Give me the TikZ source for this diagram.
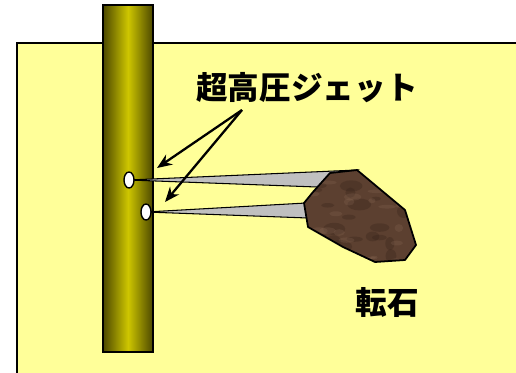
\documentclass[tikz,border=0pt]{standalone}
\usepackage{fontspec}
\newfontfamily\jp{Noto Sans CJK JP}
\usetikzlibrary{shapes.geometric,arrows.meta}

\definecolor{ground}{RGB}{255,255,153}
\definecolor{pipedark}{RGB}{76,72,0}
\definecolor{pipelite}{RGB}{206,198,0}
\definecolor{jetgray}{RGB}{192,192,192}
\definecolor{rock}{RGB}{92,64,48}
\definecolor{rocklite}{RGB}{150,118,96}
\definecolor{rockdark}{RGB}{52,34,24}

\begin{document}
\begin{tikzpicture}[x=0.02cm, y=-0.02cm,
    hole/.style={ellipse, draw=black, fill=white, line width=0.8pt, minimum width=0.2cm, minimum height=0.32cm, inner sep=0pt},
    jet/.style={draw=black, line width=0.6pt, fill=jetgray},
    txt/.style={font=\jp\bfseries\fontsize{18}{18}\selectfont},
    arrow/.style={-{Stealth[length=0.3cm, width=0.24cm]}, line width=1.3pt}
  ]
  \clip (0,0) rectangle (516,372);

  % ground
  \draw[fill=ground, line width=1.3pt] (17,43) rectangle (530,390);

  % pipe
  \shade[left color=pipedark, right color=pipedark, middle color=pipelite] (103,5) rectangle (153,352);
  \draw[line width=1.5pt] (103,5) rectangle (153,352);

  % nozzles
  \coordinate (n1) at (129,180);
  \coordinate (n2) at (146,212);

  % jets
  \filldraw[jet] (n1) -- (357,170) -- (317,187) -- cycle;
  \filldraw[jet] (n2) -- (306,203) -- (308,218) -- cycle;

  % boulder
  \def\rockpath{(330,173) -- (357,170) -- (405,210) -- (416,245) -- (405,260) -- (375,262) -- (343,247) -- (308,227) -- (304,203) -- (313,192) -- cycle}
  \fill[rock] \rockpath;
  \begin{scope}
    \clip \rockpath;
    \pgfmathsetseed{7}
    \foreach \i in {1,...,30}{
      \pgfmathsetmacro{\rx}{305+110*rnd}
      \pgfmathsetmacro{\ry}{170+92*rnd}
      \fill[rockdark, opacity=0.3] (\rx,\ry) ellipse ({4+8*rnd} and {2+5*rnd});
    }
    \foreach \i in {1,...,30}{
      \pgfmathsetmacro{\rx}{305+110*rnd}
      \pgfmathsetmacro{\ry}{170+92*rnd}
      \fill[rocklite, opacity=0.2] (\rx,\ry) ellipse ({3+7*rnd} and {1+3*rnd});
    }
  \end{scope}
  \draw[line width=1pt, line join=round] \rockpath;

  \node[hole] (h1) at (n1) {};
  \node[hole] (h2) at (n2) {};

  % labels
  \node[txt] (jettxt) at (307,88) {超高圧ジェット};
  \node[txt] (rocktxt) at (387,302) {転石};

  % arrows
  \coordinate (fork) at (242,110);
  \coordinate (tip1) at (157,168);
  \coordinate (tip2) at (165,202);
  \draw[arrow] (fork) -- (tip1);
  \draw[arrow] (fork) -- (tip2);
\end{tikzpicture}
\end{document}
